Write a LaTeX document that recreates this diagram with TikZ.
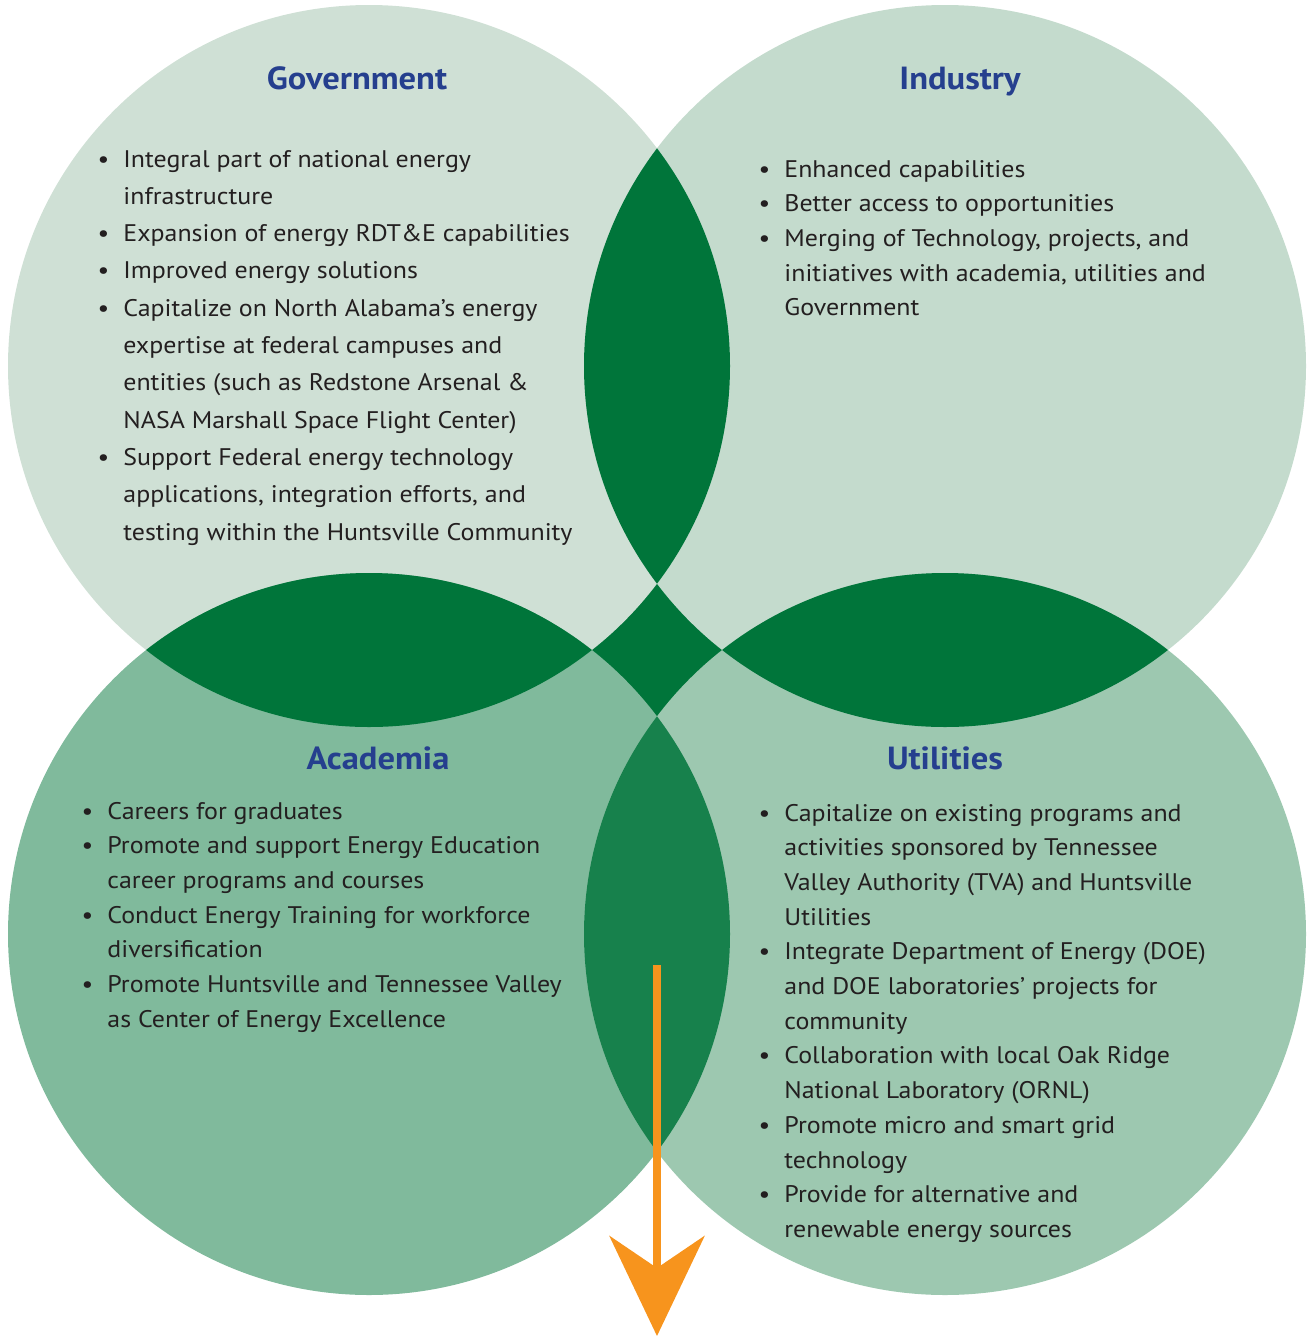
\documentclass[tikz,border=0pt]{standalone}
\usepackage{fontspec}
\setmainfont{PT Sans}[FakeStretch=1.08]
\usetikzlibrary{arrows.meta}

\definecolor{govfill}{HTML}{CFE0D5}
\definecolor{indfill}{HTML}{C4DBCD}
\definecolor{acafill}{HTML}{80BA9C}
\definecolor{utifill}{HTML}{9DC8B0}
\definecolor{darkleaf}{HTML}{00753A}
\definecolor{lowleaf}{HTML}{17814C}
\definecolor{titleblue}{HTML}{253F8E}
\definecolor{bodytext}{HTML}{231F20}
\definecolor{arroworange}{HTML}{F7941D}

\newcommand{\bul}{\makebox[20pt][c]{\textbullet}}

\tikzset{
  titletext/.style={font=\bfseries\fontsize{16}{19}\selectfont,text=titleblue,inner sep=0pt,anchor=base},
  listtext/.style={font=\fontsize{12}{17.35}\selectfont,text=bodytext,inner sep=0pt,anchor=base west},
  flowarrow/.style={draw=arroworange,line width=4pt,-{Stealth[length=50pt,width=47.5pt,inset=16pt]}}
}

\begin{document}
\begin{tikzpicture}[x=0.5pt,y=-0.5pt]
    \useasboundingbox (0,0) rectangle (1308,1339);
    \coordinate (G) at (369,366);
    \coordinate (I) at (945,366);
    \coordinate (A) at (369,934);
    \coordinate (U) at (945,934);
    \fill[darkleaf] (G) rectangle (U);
    \fill[govfill] (G) circle[radius=361];
    \fill[indfill] (I) circle[radius=361];
    \fill[acafill] (A) circle[radius=361];
    \fill[utifill] (U) circle[radius=361];
    \begin{scope}
      \clip (G) circle[radius=361];
      \fill[darkleaf] (I) circle[radius=361];
      \fill[darkleaf] (A) circle[radius=361];
    \end{scope}
    \begin{scope}
      \clip (U) circle[radius=361];
      \fill[darkleaf] (I) circle[radius=361];
      \fill[lowleaf] (A) circle[radius=361];
    \end{scope}

    \node[titletext] (govtitle) at (357,89) {Government};
    \node[titletext] (indtitle) at (960,89) {Industry};
    \node[titletext] (acatitle) at (378,769) {Academia};
    \node[titletext] (utititle) at (945,769) {Utilities};

    \node[listtext,font=\fontsize{12}{18.65}\selectfont] (govlist) at (83,167) {%
      \begin{tabular}[t]{@{}l@{}l@{}}
      \bul & Integral part of national energy\\
           & infrastructure\\
      \bul & Expansion of energy RDT\&E capabilities\\
      \bul & Improved energy solutions\\
      \bul & Capitalize on North Alabama's energy\\
           & expertise at federal campuses and\\
           & entities (such as Redstone Arsenal \&\\
           & NASA Marshall Space Flight Center)\\
      \bul & Support Federal energy technology\\
           & applications, integration efforts, and\\
           & testing within the Huntsville Community
      \end{tabular}};
    \node[listtext] (indlist) at (744,177) {%
      \begin{tabular}[t]{@{}l@{}l@{}}
      \bul & Enhanced capabilities\\
      \bul & Better access to opportunities\\
      \bul & Merging of Technology, projects, and\\
           & initiatives with academia, utilities and\\
           & Government
      \end{tabular}};
    \node[listtext] (acalist) at (67,819) {%
      \begin{tabular}[t]{@{}l@{}l@{}}
      \bul & Careers for graduates\\
      \bul & Promote and support Energy Education\\
           & career programs and courses\\
      \bul & Conduct Energy Training for workforce\\
           & diversification\\
      \bul & Promote Huntsville and Tennessee Valley\\
           & as Center of Energy Excellence
      \end{tabular}};
    \node[listtext] (utilist) at (744,821) {%
      \begin{tabular}[t]{@{}l@{}l@{}}
      \bul & Capitalize on existing programs and\\
           & activities sponsored by Tennessee\\
           & Valley Authority (TVA) and Huntsville\\
           & Utilities\\
      \bul & Integrate Department of Energy (DOE)\\
           & and DOE laboratories' projects for\\
           & community\\
      \bul & Collaboration with local Oak Ridge\\
           & National Laboratory (ORNL)\\
      \bul & Promote micro and smart grid\\
           & technology\\
      \bul & Provide for alternative and\\
           & renewable energy sources
      \end{tabular}};

    \coordinate (arrowtop) at (657,965);
    \coordinate (arrowtip) at (657,1336);
    \draw[flowarrow] (arrowtop) -- (arrowtip);
\end{tikzpicture}
\end{document}
